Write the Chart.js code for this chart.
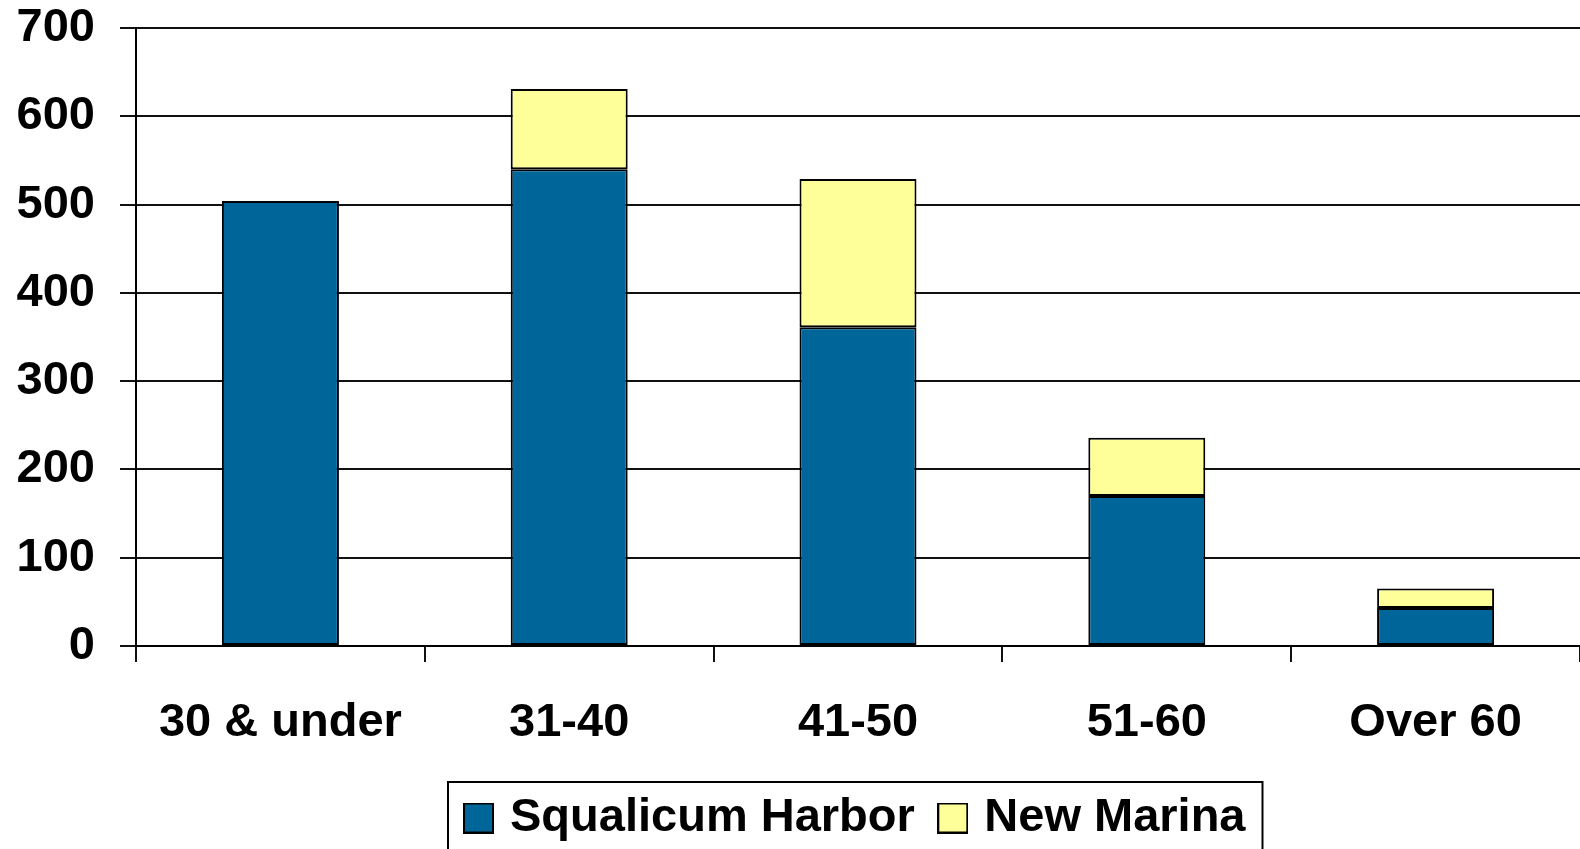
<!DOCTYPE html>
<html>
<head>
<meta charset="utf-8">
<script src="https://cdn.jsdelivr.net/npm/chart.js@4"></script>
<style>
  html, body { margin: 0; padding: 0; background: #fff; overflow: hidden; }
  #wrap { width: 1580px; height: 849px; }
  canvas { display: block; }
</style>
</head>
<body>
<div id="wrap"><canvas id="chart" width="1580" height="849"></canvas></div>
<script>
// age groups on the x axis
const ageGroups = ["30 & under", "31-40", "41-50", "51-60", "Over 60"];
// values
const squalicum = [504, 540, 361, 170, 43];
const newMarina = [0, 91, 168, 66, 22];
const yMax = 700;
const yStep = 100;

const font = "'Liberation Sans', Arial, sans-serif";
const blue = "#006699";
const yellow = "#ffff99";

// small square with a black edge, used as the legend marker
function swatch(color) {
  const c = document.createElement("canvas");
  c.width = 31;
  c.height = 31;
  const g = c.getContext("2d");
  g.fillStyle = color;
  g.fillRect(0, 0, 31, 31);
  g.strokeStyle = "#000";
  g.lineWidth = 2;
  g.strokeRect(1, 1, 29, 29);
  return c;
}

// box round the legend, like the original
const legendFrame = {
  id: "legendFrame",
  afterDraw(chart) {
    const lg = chart.legend;
    if (!lg || !lg.legendHitBoxes.length) return;
    const boxes = lg.legendHitBoxes;
    const left = boxes[0].left - 7.5 - 15;
    const last = boxes[boxes.length - 1];
    const right = last.left + last.width + 17;
    const top = lg.top + 17.5;
    const ctx = chart.ctx;
    ctx.save();
    ctx.strokeStyle = "#000";
    ctx.lineWidth = 2;
    ctx.strokeRect(left, top, right - left, chart.height - top + 10);
    ctx.restore();
  }
};

new Chart(document.getElementById("chart"), {
  type: "bar",
  data: {
    labels: ageGroups,
    datasets: [
      {
        label: "Squalicum Harbor",
        data: squalicum,
        backgroundColor: blue,
        borderColor: "#000",
        borderWidth: 2,
        borderSkipped: false,
      },
      {
        label: "New Marina",
        data: newMarina,
        backgroundColor: yellow,
        borderColor: "#000",
        borderWidth: 2,
        borderSkipped: false,
      },
    ],
  },
  options: {
    responsive: false,
    animation: false,
    devicePixelRatio: 1,
    layout: { padding: { top: 28, right: 0, bottom: -2.5, left: 0 } },
    datasets: { bar: { barPercentage: 0.405, categoryPercentage: 1 } },
    scales: {
      x: {
        stacked: true,
        offset: true,
        grid: {
          offset: true,
          drawOnChartArea: false,
          drawTicks: true,
          tickLength: 16,
          color: "#111",
          lineWidth: 2,
        },
        border: { display: true, color: "#000", width: 2 },
        ticks: {
          color: "#000",
          padding: 33,
          maxRotation: 0,
          font: { family: font, size: 47, weight: "bold" },
        },
        afterFit(scale) {
          scale.height = 118.5;
          scale.paddingLeft = 0;
          scale.paddingRight = 0;
        },
      },
      y: {
        stacked: true,
        min: 0,
        max: yMax,
        ticks: {
          stepSize: yStep,
          color: "#000",
          padding: 25,
          font: { family: font, size: 47, weight: "bold" },
        },
        grid: {
          color: "#111",
          lineWidth: 2,
          tickLength: 16,
        },
        border: { display: true, color: "#000", width: 2 },
        afterFit(scale) {
          scale.width = 136;
          scale.paddingTop = 0;
          scale.paddingBottom = 0;
        },
      },
    },
    plugins: {
      tooltip: { enabled: false },
      legend: {
        position: "bottom",
        fullSize: false,
        labels: {
          color: "#000",
          usePointStyle: true,
          pointStyleWidth: 16,
          boxHeight: 31,
          padding: 30,
          font: { family: font, size: 47, weight: "bold" },
          generateLabels(chart) {
            return chart.data.datasets.map((ds, i) => ({
              text: ds.label,
              pointStyle: swatch(ds.backgroundColor),
              fillStyle: ds.backgroundColor,
              strokeStyle: "#000",
              lineWidth: 0,
              fontColor: "#000",
              datasetIndex: i,
              hidden: false,
            }));
          },
        },
      },
    },
  },
  plugins: [legendFrame],
});
</script>
</body>
</html>
